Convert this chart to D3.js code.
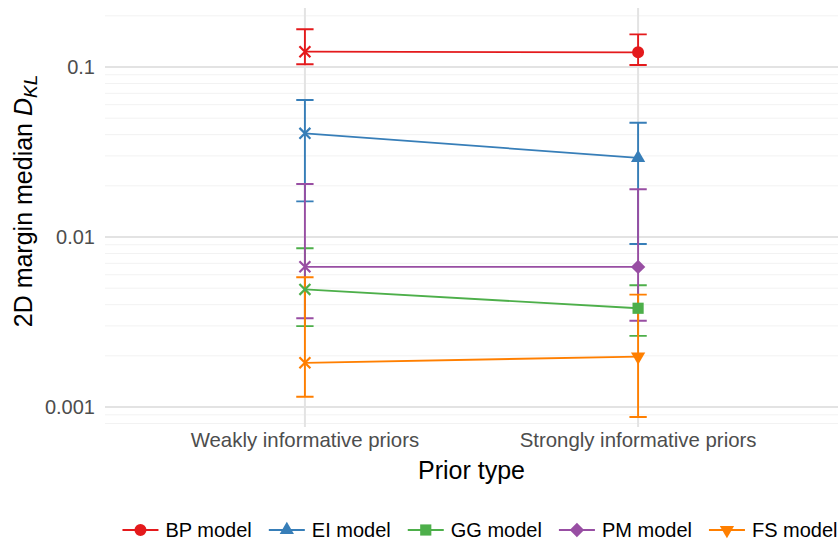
<!DOCTYPE html>
<html>
<head>
<meta charset="utf-8">
<script src="https://cdn.jsdelivr.net/npm/d3@7"></script>
<style>
  html, body { margin: 0; padding: 0; background: #fff; }
  svg { display: block; font-family: "Liberation Sans", Arial, Helvetica, sans-serif; }
</style>
</head>
<body>
<svg id="chart" width="838" height="545"></svg>
<script>
// prior types on the x axis
var priors = ['Weakly informative priors', 'Strongly informative priors'];
// models, in drawing order
var models = ['BP model', 'EI model', 'GG model', 'PM model', 'FS model'];
var colors = ['#E41A1C', '#377EB8', '#4DAF4A', '#984EA3', '#FF7F00'];
var shapes = ['circle', 'triangle', 'square', 'diamond', 'triangleDown'];

// median D_KL per model, [weakly, strongly]
var medianKL = [
    [0.123, 0.122],
    [0.0407, 0.0292],
    [0.00492, 0.00381],
    [0.00668, 0.00667],
    [0.00182, 0.00198]
];
// lower end of the error bar
var lowerKL = [
    [0.1037, 0.1027],
    [0.0162, 0.0091],
    [0.00299, 0.00262],
    [0.00333, 0.00322],
    [0.00115, 0.000873]
];
// upper end of the error bar
var upperKL = [
    [0.1667, 0.1556],
    [0.064, 0.047],
    [0.00859, 0.0052],
    [0.0205, 0.0191],
    [0.0058, 0.00458]
];

var yTicks = [0.1, 0.01, 0.001];
var yTickLabels = ['0.1', '0.01', '0.001'];

var panel = {left: 105, right: 838, top: 8, bottom: 427};

var svg = d3.select('#chart');

var x = d3.scalePoint()
    .domain(priors)
    .range([panel.left, panel.right])
    .padding(0.6);

var y = d3.scaleLog()
    .domain([0.000763, 0.2223])
    .range([panel.bottom, panel.top]);

// grid
var minorVals = [];
for(var k = -4; k <= 0; k++) {
    for(var m = 2; m <= 9; m++) {
        var v = m * Math.pow(10, k);
        if(v >= y.domain()[0] && v <= y.domain()[1]) minorVals.push(v);
    }
}
var grid = svg.append('g').attr('class', 'grid');
grid.selectAll('line.minor')
    .data(minorVals)
    .enter().append('line')
    .attr('class', 'minor')
    .attr('x1', panel.left).attr('x2', panel.right)
    .attr('y1', function(d) { return y(d); })
    .attr('y2', function(d) { return y(d); })
    .style('stroke', '#f2f2f2')
    .style('stroke-width', 1);
grid.selectAll('line.major')
    .data(yTicks)
    .enter().append('line')
    .attr('class', 'major')
    .attr('x1', panel.left).attr('x2', panel.right)
    .attr('y1', function(d) { return y(d); })
    .attr('y2', function(d) { return y(d); })
    .style('stroke', '#e3e3e3')
    .style('stroke-width', 2);
grid.selectAll('line.vmajor')
    .data(priors)
    .enter().append('line')
    .attr('class', 'vmajor')
    .attr('y1', panel.top).attr('y2', panel.bottom)
    .attr('x1', function(d) { return x(d); })
    .attr('x2', function(d) { return x(d); })
    .style('stroke', '#e3e3e3')
    .style('stroke-width', 2);

// axis text
svg.append('g').selectAll('text')
    .data(yTicks)
    .enter().append('text')
    .attr('x', panel.left - 10)
    .attr('y', function(d) { return y(d); })
    .attr('dy', '0.35em')
    .attr('text-anchor', 'end')
    .style('font-size', '20px')
    .style('fill', '#4d4d4d')
    .text(function(d, i) { return yTickLabels[i]; });

svg.append('g').selectAll('text')
    .data(priors)
    .enter().append('text')
    .attr('x', function(d) { return x(d); })
    .attr('y', 447)
    .attr('text-anchor', 'middle')
    .style('font-size', '20.4px')
    .style('fill', '#4d4d4d')
    .text(function(d) { return d; });

svg.append('text')
    .attr('x', (panel.left + panel.right) / 2)
    .attr('y', 479)
    .attr('text-anchor', 'middle')
    .style('font-size', '25px')
    .style('fill', '#000')
    .text('Prior type');

var ytitle = svg.append('text')
    .attr('transform', 'translate(32,201) rotate(-90)')
    .attr('text-anchor', 'middle')
    .style('font-size', '25px')
    .style('fill', '#000');
ytitle.append('tspan').text('2D margin median ');
ytitle.append('tspan').style('font-style', 'italic').text('D');
ytitle.append('tspan').style('font-style', 'italic').style('font-size', '19px')
    .attr('dy', 5).text('KL');

// symbol helpers
function symbolPath(shape) {
    var type, size;
    if(shape === 'circle') { type = d3.symbolCircle; size = 113; }
    else if(shape === 'triangle' || shape === 'triangleDown') { type = d3.symbolTriangle; size = 88; }
    else if(shape === 'square') { type = d3.symbolSquare; size = 125; }
    else if(shape === 'diamond') { type = d3.symbolSquare; size = 104; }
    else { type = d3.symbolTimes; size = 80; }
    return d3.symbol().type(type).size(size)();
}
function symbolRotate(shape) {
    if(shape === 'triangleDown') return 180;
    if(shape === 'diamond') return 45;
    return 0;
}

var series = models.map(function(name, i) {
    return {
        name: name,
        color: colors[i],
        shape: shapes[i],
        pts: priors.map(function(p, j) {
            return {prior: p, med: medianKL[i][j], lo: lowerKL[i][j], hi: upperKL[i][j], idx: j};
        })
    };
});

var line = d3.line()
    .x(function(d) { return x(d.prior); })
    .y(function(d) { return y(d.med); });

// connecting lines
svg.append('g').selectAll('path')
    .data(series)
    .enter().append('path')
    .attr('d', function(s) { return line(s.pts); })
    .style('fill', 'none')
    .style('stroke', function(s) { return s.color; })
    .style('stroke-width', 1.8);

// error bars
var capHalf = x.step() * 0.026;
svg.append('g').selectAll('path')
    .data(series)
    .enter().append('path')
    .attr('d', function(s) {
        return s.pts.map(function(d) {
            var px = x(d.prior), lo = y(d.lo), hi = y(d.hi);
            return 'M' + (px - capHalf) + ',' + hi + 'H' + (px + capHalf) +
                'M' + px + ',' + hi + 'V' + lo +
                'M' + (px - capHalf) + ',' + lo + 'H' + (px + capHalf);
        }).join('');
    })
    .style('fill', 'none')
    .style('stroke', function(s) { return s.color; })
    .style('stroke-width', 1.9);

// points: crosses for weakly priors, model shapes for strongly priors
var pointGroups = svg.append('g').selectAll('g')
    .data(series)
    .enter().append('g');
pointGroups.each(function(s) {
    d3.select(this).selectAll('path')
        .data(s.pts)
        .enter().append('path')
        .attr('transform', function(d) {
            var shp = d.idx === 0 ? 'times' : s.shape;
            return 'translate(' + x(d.prior) + ',' + y(d.med) + ') rotate(' + symbolRotate(shp) + ')';
        })
        .attr('d', function(d) { return symbolPath(d.idx === 0 ? 'times' : s.shape); })
        .style('fill', function(d) { return d.idx === 0 ? 'none' : s.color; })
        .style('stroke', function(d) { return d.idx === 0 ? s.color : 'none'; })
        .style('stroke-width', 2.2);
});

// legend
var legend = svg.append('g').attr('class', 'legend');
var keyW = 36, textGap = 7, itemGap = 17, legY = 530;
var items = legend.selectAll('g')
    .data(series)
    .enter().append('g');
items.append('line')
    .attr('x1', 0).attr('x2', keyW)
    .attr('y1', 0).attr('y2', 0)
    .style('stroke', function(s) { return s.color; })
    .style('stroke-width', 1.8);
items.append('path')
    .attr('transform', function(s) { return 'translate(' + keyW / 2 + ',0) rotate(' + symbolRotate(s.shape) + ')'; })
    .attr('d', function(s) { return symbolPath(s.shape); })
    .style('fill', function(s) { return s.color; });
items.append('text')
    .attr('x', keyW + textGap)
    .attr('dy', '0.35em')
    .style('font-size', '20px')
    .style('fill', '#000')
    .text(function(s) { return s.name; });

var offsets = [], cur = 0;
items.each(function() {
    offsets.push(cur);
    var w = d3.select(this).select('text').node().getComputedTextLength();
    cur += keyW + textGap + w + itemGap;
});
var totalW = cur - itemGap;
var startX = 480 - totalW / 2;
items.attr('transform', function(s, i) { return 'translate(' + (startX + offsets[i]) + ',' + legY + ')'; });
</script>
</body>
</html>
